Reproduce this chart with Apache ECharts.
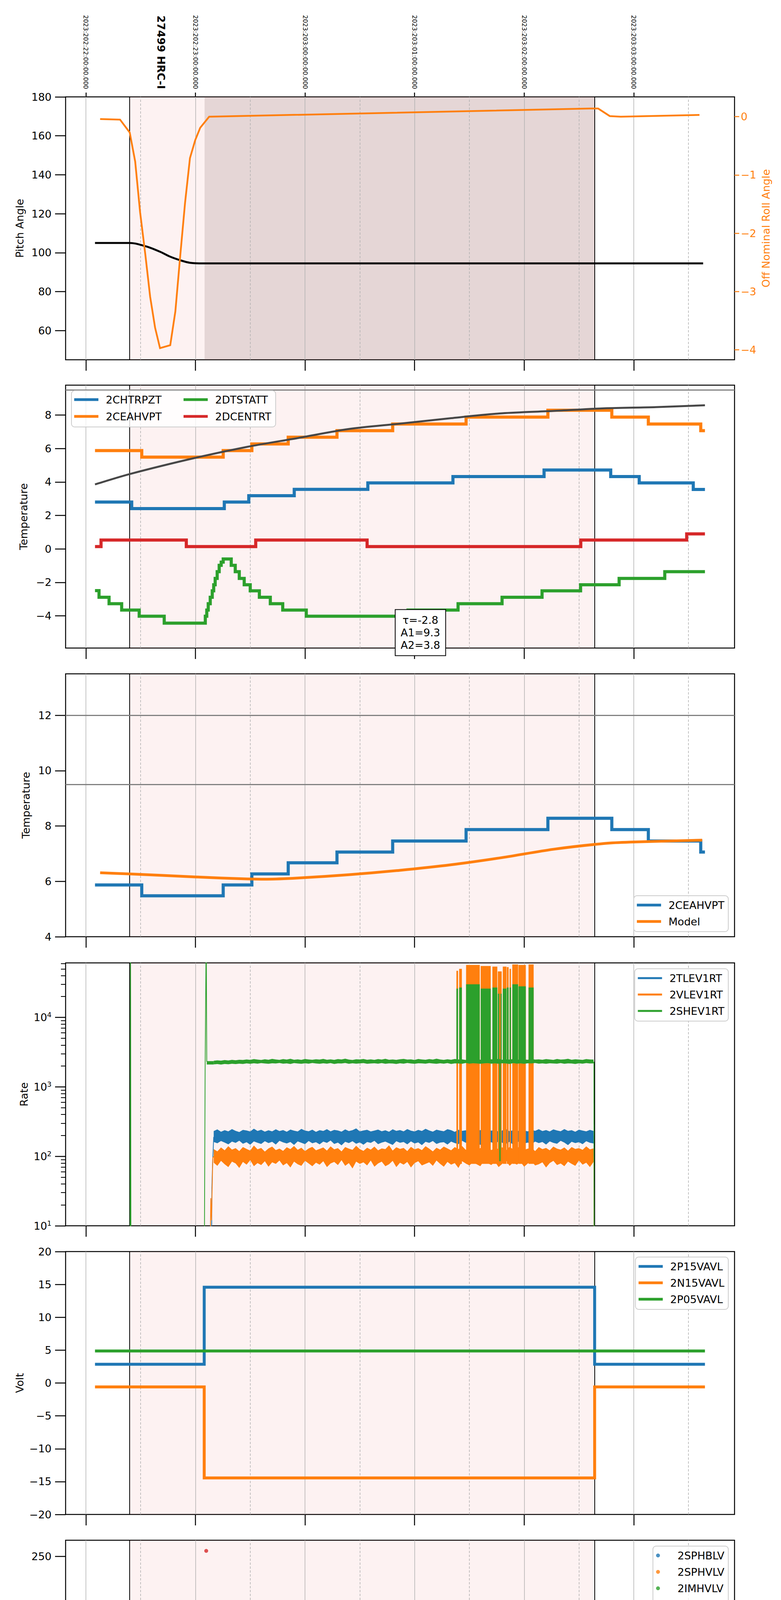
<!DOCTYPE html>
<html><head><meta charset="utf-8">
<script src="https://cdn.jsdelivr.net/npm/echarts@6/dist/echarts.min.js"></script>
<style>html,body{margin:0;padding:0;background:#fff}#c{width:2000px;height:6200px}</style>
</head><body><div id="c"></div>
<script>
// ---------------- DATA (time = minutes after 18:00 local, 2023-07-22) ----------------
const hourTicks = [0, 60, 120, 180, 240, 300];
const halfTicks = [30, 90, 150, 210, 270, 330];
const hourLabels = ['18h', '19h', '20h', '21h', '22h', '23h'];
const topDateLabels = ['2023:202:22:00:00.000', '2023:202:23:00:00.000', '2023:203:00:00:00.000',
  '2023:203:01:00:00.000', '2023:203:02:00:00.000', '2023:203:03:00:00.000'];
const obsLabel = '27499 HRC-I';
const obsTime = 41.2;
const xTitle = '2023-07-22 (203)';
const shadeStart = 24.0, shadeEnd = 278.6, hrcOnTime = 65.0;

// Panel 1
const pitchT = [5, 24, 27, 30, 35, 41, 46, 52, 57, 63, 338];
const pitchV = [105, 105, 104.7, 104.0, 102.6, 100.3, 98.0, 96.0, 94.8, 94.5, 94.5];
const rollT = [7.8, 18.7, 24.0, 27.0, 29.7, 32.5, 35.2, 37.9, 40.6, 46.2, 49.0, 51.6, 54.3, 57.0, 59.9, 62.6, 67.5, 276.4, 280.5, 286.9, 292.9, 336.0];
const rollV = [-0.04, -0.05, -0.27, -0.77, -1.64, -2.35, -3.09, -3.62, -3.97, -3.92, -3.34, -2.41, -1.48, -0.71, -0.40, -0.19, 0.00, 0.14, 0.14, 0.01, 0.00, 0.03];

// Panel 2
const htrT = [5, 25.1, 75.8, 89.2, 114.1, 154.4, 201.0, 250.9, 287.4, 303.0, 332.6, 339];
const htrV = [2.80, 2.41, 2.80, 3.18, 3.56, 3.94, 4.32, 4.71, 4.32, 3.94, 3.55, 3.55];
const ceaT = [5, 30.6, 75.2, 90.9, 110.8, 137.5, 168.0, 208.2, 253.0, 288.0, 308.0, 336.7, 339];
const ceaV = [5.87, 5.48, 5.87, 6.27, 6.67, 7.06, 7.46, 7.87, 8.28, 7.87, 7.46, 7.06, 7.06];
const dtsT = [5, 7.2, 12.7, 19.6, 29.2, 42.9, 65.4, 66.2, 67.0, 68.1, 69.2, 70.0, 70.8, 71.9, 73.0, 74.1, 75.2, 79.6, 81.8, 84.0, 86.7, 90.0, 95.0, 101.0, 107.8, 120.7, 176.4, 203.8, 227.9, 249.8, 270.9, 292.0, 317.0, 339];
const dtsV = [-2.49, -2.89, -3.27, -3.65, -4.02, -4.43, -4.02, -3.65, -3.27, -2.89, -2.50, -2.14, -1.76, -1.36, -0.98, -0.79, -0.60, -0.98, -1.36, -1.76, -2.14, -2.50, -2.89, -3.27, -3.65, -4.02, -3.65, -3.27, -2.89, -2.50, -2.14, -1.76, -1.36, -1.36];
const dceT = [5, 8.3, 55, 93, 154, 271, 329, 339];
const dceV = [0.14, 0.53, 0.14, 0.53, 0.14, 0.53, 0.90, 0.90];
const model2T = [5, 24, 60, 88, 116, 144, 172, 200, 228, 256, 284, 312, 339];
const model2V = [3.85, 4.47, 5.44, 6.09, 6.62, 7.16, 7.48, 7.81, 8.10, 8.24, 8.40, 8.47, 8.58];
const fitLines = ['τ=-2.8', 'A1=9.3', 'A2=3.8'];
const fitAt = [183.2, -5.0];
const limit2 = [9.5];

// Panel 3
const model3T = [7.8, 24, 60, 88, 99, 116, 144, 172, 200, 228, 256, 284, 298, 337.5];
const model3V = [6.31, 6.27, 6.16, 6.09, 6.08, 6.12, 6.24, 6.40, 6.60, 6.86, 7.16, 7.37, 7.42, 7.49];
const limit3 = [12, 9.5];

// Panel 4 (rates, log scale): noise envelopes sampled every 2 minutes
const bandT = [70,72,74,76,78,80,82,84,86,88,90,92,94,96,98,100,102,104,106,108,110,112,114,116,118,120,122,124,126,128,130,132,134,136,138,140,142,144,146,148,150,152,154,156,158,160,162,164,166,168,170,172,174,176,178,180,182,184,186,188,190,192,194,196,198,200,202,204,206,208,210,212,214,216,218,220,222,224,226,228,230,232,234,236,238,240,242,244,246,248,250,252,254,256,258,260,262,264,266,268,270,272,274,276,278];
const tleHi = [231,244,226,238,229,247,233,224,240,236,228,250,232,241,227,
  237,229,245,231,239,226,243,234,228,248,235,230,242,225,238,
  232,246,229,240,236,227,244,231,238,252,229,236,241,228,235,
  243,230,237,226,245,233,239,229,247,234,228,240,232,249,236,
  227,242,235,230,246,238,225,241,233,237,229,244,231,239,228,
  245,234,240,227,236,248,230,238,226,243,235,229,241,233,246,
  231,239,228,244,236,230,247,233,238,226,242,235,229,240,232];
const tleLo = [161,154,166,158,149,163,156,168,152,160,147,164,157,151,165,
  155,162,148,167,159,153,161,146,164,157,150,166,154,160,149,
  163,156,169,151,158,144,162,155,165,152,159,147,161,156,167,
  150,158,163,154,146,165,157,161,149,164,153,159,145,162,156,
  166,151,158,160,148,163,155,150,167,157,161,152,158,146,164,
  154,160,149,165,157,151,162,147,159,166,153,158,150,163,155,
  161,148,164,156,152,167,158,145,162,155,160,150,165,157,153];
const vleHi = [127,118,134,122,140,125,131,119,136,128,121,143,126,132,117,
  130,138,123,129,120,135,127,141,124,133,119,130,137,122,128,
  134,121,139,126,131,118,136,129,124,142,127,120,133,125,138,
  122,130,127,144,121,135,128,132,119,137,126,131,123,140,129,
  118,133,125,138,130,122,136,127,141,124,129,134,120,132,126,
  139,123,131,128,135,121,137,126,130,143,124,129,133,119,136,
  127,132,122,138,129,125,134,121,136,128,131,124,139,126,130];
const vleLo = [81,73,86,77,70,84,79,68,83,76,88,72,80,75,85,
  71,82,78,87,74,80,69,84,77,73,86,79,72,81,76,
  85,70,79,83,75,88,73,80,67,84,78,82,74,87,71,
  79,84,72,77,86,70,81,76,83,69,80,85,74,78,82,
  73,87,78,71,83,76,80,68,85,79,74,82,77,72,86,
  80,75,84,70,78,88,73,81,76,83,71,79,85,74,77,
  82,69,80,86,75,79,72,84,78,73,87,76,81,70,83];
const sheHi = [2380,2410,2390,2430,2400,2450,2420,2460,2440,2480,2450,2510,2470,2440,2500,
  2460,2530,2480,2450,2510,2470,2540,2460,2490,2450,2520,2480,2460,2500,2470,
  2530,2460,2490,2450,2510,2480,2550,2470,2440,2500,2480,2520,2460,2490,2450,
  2510,2470,2540,2460,2480,2450,2500,2530,2470,2490,2440,2520,2480,2460,2510,
  2470,2550,2480,2450,2500,2460,2520,2480,2490,2440,2510,2470,2530,2460,2490,
  2450,2500,2480,2540,2460,2490,2470,2520,2450,2500,2480,2460,2530,2470,2490,
  2460,2510,2480,2450,2520,2470,2490,2540,2460,2500,2470,2450,2510,2480,2470];
const sheLo = [2110,2130,2100,2140,2120,2150,2130,2160,2140,2180,2150,2190,2160,2200,2170,
  2150,2190,2170,2210,2160,2180,2140,2200,2170,2150,2190,2160,2210,2170,2150,
  2190,2160,2200,2140,2180,2170,2210,2150,2190,2160,2180,2200,2150,2170,2190,
  2160,2200,2150,2180,2170,2140,2190,2160,2210,2170,2150,2190,2180,2160,2200,
  2170,2150,2190,2160,2200,2140,2180,2170,2150,2210,2160,2190,2170,2150,2180,
  2200,2160,2180,2150,2190,2170,2140,2200,2160,2180,2150,2190,2170,2210,2160,
  2180,2150,2190,2170,2160,2200,2150,2180,2170,2140,2190,2160,2200,2170,2180];
// bursts: [start, end, low, high]
const vleBursts = [[202.9,203.8,78,47000],[204.4,205.9,78,50000],[208.2,215.7,78,57000],[216.2,221.7,78,55000],[222.6,225.3,78,54000],[225.6,227.7,78,46000],[228.3,230.3,78,54000],[230.5,231.5,78,53000],[232.0,232.8,78,50000],[233.5,236.7,78,58000],[236.9,240.9,78,57000],[242.4,245.2,78,58000]];
const sheBursts = [[66.2,70,2100,2350],[202.9,203.8,2200,26000],[204.4,205.9,2200,27000],[208.2,215.7,2200,30000],[216.2,221.7,2200,26000],[222.6,225.3,2200,27000],[225.6,226.4,2200,22000],[227.1,227.7,2200,22000],[228.3,230.3,2200,26000],[230.5,231.5,2200,27000],[232.0,232.8,2200,27000],[233.5,236.7,2200,30000],[236.9,240.9,2200,28000],[242.4,245.2,2200,27000],[226.4,227.1,85,2300]];
const sheSpikeT = [5, 24.2, 24.45, 24.7];
const sheSpikeV = [1, 1, 200000, 1];
const sheOnT = [64.8, 65.3, 65.9, 66.2];
const sheOnV = [1, 1700, 200000, 2300];
const tleOnT = [68.7, 69.0, 69.4, 70.0];
const tleOnV = [1, 35, 80, 190];
const vleOnT = [67.8, 68.4, 68.8, 69.5, 70.0];
const vleOnV = [1, 25, 12, 95, 100];
const rateOffT = [278.2, 278.35];
const tleOffV = [200, 1];
const vleOffV = [100, 1];
const sheOffV = [2300, 1];

// Panel 5
const voltT = [5, 64.8, 278.6, 339];
const p15V = [2.85, 14.57, 2.85, 2.85];
const n15V = [-0.6, -14.45, -0.6, -0.6];
const p05T = [5, 339];
const p05V = [4.87, 4.87];

// Panel 6 (HV monitor, points)
const hvRedT = [65.9, 66.5, 66.6, 66.7, 66.9, 67.1, 67.5, 67.7, 68.0, 68.2, 68.4, 68.7, 68.9, 69.3, 69.7, 207.0, 212.1, 212.7, 218.9];
const hvRedV = [255.5, 126.6, 124, 118.9, 106, 104, 101.3, 99, 96.6, 95, 92.8, 91, 90, 88, 87, 79, 79, 79, 79];
const hvRedSteadyT = [70.3, 278.3];
const hvRedSteadyV = [86.3, 86.3];
const hvGreenT = [66.3, 66.5, 66.8, 67.0, 67.3, 67.6, 67.9, 68.2, 68.6, 207.0, 212.1, 212.7, 218.9];
const hvGreenV = [100.3, 97, 95.7, 92, 90, 87, 86.3, 84, 82.6, 127, 127, 127, 127];
const hvGreenSteadyT = [68.8, 278.3];
const hvGreenSteadyV = [78.8, 78.8];

// Panel 7 (detector temps)
const spinT = [66.4, 67.0, 67.5, 68.6, 69.7, 70.8, 71.9, 73.0, 74.1, 75.8, 79.6, 81.2, 83.2, 85.9, 88.6, 91.4, 96.0, 102.3, 110.6, 124.3, 180.5, 209.3, 278.3];
const spinV = [3.66, 4.18, 4.62, 5.10, 5.55, 6.03, 6.53, 7.01, 7.49, 8.00, 7.49, 7.01, 6.53, 6.03, 5.55, 5.10, 4.62, 4.18, 3.70, 3.25, 2.81, 3.25, 3.25];
const spinBursts = [[204.6,207.8,-1,2.81],[209.3,226.2,-1,3.25],[227.6,246.8,-1,3.25]];
const sphT = [65.3, 65.9, 92.5, 92.8, 120.8, 148.0, 176.9, 204.6, 226.9, 227.1, 242.2, 278.3];
const sphV = [14.30, 15.02, 14.70, 15.02, 15.25, 15.54, 15.82, 13.0, -3, 13.0, 16.39, 16.39];
const sphBursts = [[204.6,207.8,10.5,15.8],[209.3,226.4,10.5,16.0],[227.6,242.2,10.5,16.0],[244.2,246.8,10.8,16.4]];
const iminT = [66.4, 115.2, 212.7, 246.8, 278.3];
const iminV = [0.65, 1.10, 1.40, 1.52, 1.52];
const iminBursts = [[204.6,207.8,1.1,2.85],[212.7,226.2,1.4,3.3],[227.6,242.2,1.4,3.3],[244.2,246.8,1.4,3.3]];
const imhT = [65.2, 65.3, 77.7, 84.0, 91.3, 98.8, 107.8, 117.4, 129.8, 144.0, 160.8, 181.0, 204.6, 205.5, 242.2, 245.0, 245.6, 278.3, 278.4];
const imhV = [-5, 14.43, 14.73, 15.00, 15.30, 15.54, 15.82, 16.12, 16.39, 16.68, 16.97, 17.25, 15.80, 17.00, 17.81, 16.00, 17.81, 25, -5];
const imhBursts = [[205.2,242.2,16.04,17.54]];

// Panel 8 (FEA temps)
const fhtT = [5, 56, 73.5, 84.9, 93.6, 102.6, 111.4, 120.8, 130.6, 141, 151, 162, 172.3, 183, 194.8, 208, 224, 241.5, 242.5, 257.8, 271.5, 304.7, 319.7, 336, 339];
const fhtV = [-8.81, -9.2, -8.81, -8.39, -7.98, -7.58, -7.18, -6.77, -6.37, -5.98, -5.6, -5.19, -4.81, -4.42, -4.03, -3.64, -3.26, -2.88, -2.5, -2.11, -1.74, -2.11, -2.5, -2.88, -2.88];
const fraT = [5, 49.0, 51.7, 81, 90.9, 101, 110.8, 120.8, 131.7, 142.6, 153.9, 165.7, 177.7, 190.3, 203.8, 217, 230.7, 244.8, 259.1, 274.5, 292, 305.7, 321, 337.2, 339];
const fraV = [-12, -10.9, -12, -10.9, -10.47, -10.06, -9.64, -9.22, -8.81, -8.39, -7.98, -7.58, -7.18, -6.77, -6.37, -5.98, -5.6, -5.19, -4.81, -4.42, -4.81, -5.19, -5.6, -5.98, -5.98];
const fepT = [67.5, 69.5, 71.4, 74.7, 79.0, 83.4, 90.0, 97.2, 104.8, 113.0, 121.8, 131.7, 141.8, 152.2, 163.8, 175.5, 187.9, 201, 242.7, 258.6, 275, 276];
const fepV = [-7.45, -7.01, -6.6, -6.2, -5.79, -5.4, -5.01, -4.62, -4.21, -3.79, -3.4, -3.01, -2.62, -2.21, -1.82, -1.4, -1.01, -0.58, 0.68, 1.13, 1.5, 1.5];
const fepBursts = [[202.5,206.5,-4.67,-0.55],[208.2,214.2,-4.67,-0.5],[216.6,224.0,-4.67,-0.5],[227.9,241.4,-4.67,-0.2],[242.7,245.9,-4.67,0.7]];
const fe0T = [65.2, 65.3, 70.8, 76.9, 77.3, 79.0, 85.9, 86.3, 86.7, 91.4, 92.4, 92.8, 98.2, 100.5, 100.9, 104.3, 108.0, 108.4, 111.4, 118.8, 123.4, 125.5, 125.9, 133.1, 134.1, 134.5, 141.3, 148.1, 157.4, 166.2, 175.0, 184.6, 194.2, 203.8, 226.3, 226.6, 245.9, 255.9, 265.4, 278.3, 278.5];
const fe0V = [-13, -7.06, -6.72, -7.15, -6.72, -6.35, -5.97, -6.37, -5.97, -5.60, -6.39, -5.60, -5.22, -5.64, -5.22, -4.86, -5.30, -4.86, -4.52, -4.18, -3.82, -4.23, -3.82, -3.47, -4.23, -3.47, -3.12, -2.77, -2.44, -2.10, -1.76, -1.43, -1.11, 0.5, -13, 0.5, 0.56, 0.84, 1.15, 3, -13];
const fe0Bursts = [[200.3,201.5,-1.11,-0.13],[203.8,206.8,-1.15,2],[206.7,208.4,-1.15,2],[206.8,213.5,-0.82,2],[213.5,223,-0.52,2],[223,238,-0.21,2],[230.2,231.6,-0.52,2],[235.3,237,-0.52,2],[238,245.9,0.1,2],[243,244.4,-0.82,2]];

// ---------------- CHART ----------------
const FONT = 'DejaVu Sans';
const C = {blue: '#1f77b4', orange: '#ff7f0e', green: '#2ca02c', red: '#d62728'};
const X_MIN = -11.1, X_MAX = 355.2;
const tops = [248, 986, 1725, 2465, 3204, 3943, 4682, 5421];
const PH = 673;
const minus = v => (v < 0 ? '\u2212' : '') + Math.abs(v);

const panels = [
  {name: 'Pitch Angle', min: 45, max: 180, ticks: [60, 80, 100, 120, 140, 160, 180], gap: 104},
  {name: 'Temperature', min: -5.92, max: 9.78, ticks: [-4, -2, 0, 2, 4, 6, 8], gap: 94},
  {name: 'Temperature', min: 4, max: 13.5, ticks: [4, 6, 8, 10, 12], gap: 88},
  {name: 'Rate', type: 'log', min: 10, max: 61000, ticks: [10, 100, 1000, 10000], gap: 92},
  {name: 'Volt', min: -20, max: 20, ticks: [-20, -15, -10, -5, 0, 5, 10, 15, 20], gap: 104},
  {name: 'HV Monitor', min: 0, max: 266.3, ticks: [0, 50, 100, 150, 200, 250], gap: 100},
  {name: 'Detector Temp', min: -0.42, max: 19.02, ticks: [0, 2.5, 5, 7.5, 10, 12.5, 15, 17.5], gap: 113, fmt: v => v.toFixed(1)},
  {name: 'FEA Temp', min: -11.13, max: 1.36, ticks: [-10, -8, -6, -4, -2, 0], gap: 112}
];
const limits = {1: limit2, 2: limit3};
const NOLINE = {show: false, onZero: false};

const grids = tops.map(t => ({left: 168, right: 119, top: t, height: PH, show: true, borderColor: '#000', borderWidth: 2.5, backgroundColor: 'transparent'}));

const xAxes = tops.map((t, gi) => ({
  type: 'value', gridIndex: gi, min: X_MIN, max: X_MAX, position: 'bottom',
  axisLine: NOLINE, splitLine: {show: false},
  axisTick: {show: true, customValues: hourTicks, length: 28, lineStyle: {color: '#000', width: 2.5}},
  axisLabel: gi === 7 ? {
    customValues: hourTicks.concat(halfTicks).sort((a, b) => a - b), margin: 6,
    formatter: v => hourTicks.indexOf(v) >= 0 ? '{h|' + hourLabels[hourTicks.indexOf(v)] + '}' : '{m|30}',
    rich: {h: {fontSize: 28, fontFamily: FONT, color: '#000', padding: [27, 0, 0, 0]}, m: {fontSize: 17, fontFamily: FONT, color: '#000'}}
  } : {show: false},
  name: gi === 7 ? xTitle : '', nameLocation: 'middle', nameGap: 69,
  nameTextStyle: {fontSize: 33, fontFamily: FONT, color: '#000'}
}));
xAxes.push({
  type: 'value', gridIndex: 0, min: X_MIN, max: X_MAX, position: 'top',
  axisLine: NOLINE, splitLine: {show: false},
  axisTick: {show: true, customValues: hourTicks, length: 11, lineStyle: {color: '#000', width: 2.5}},
  axisLabel: {
    customValues: [hourTicks[0], obsTime].concat(hourTicks.slice(1)), rotate: 90, margin: 20,
    formatter: v => Math.abs(v - obsTime) < 0.01 ? '{b|' + obsLabel + '}' : '{d|' + topDateLabels[hourTicks.indexOf(v)] + '}',
    rich: {b: {fontSize: 27, fontWeight: 'bold', fontFamily: FONT, color: '#000'}, d: {fontSize: 16, fontFamily: FONT, color: '#000'}}
  }
});

const yAxes = panels.map((p, gi) => ({
  type: p.type || 'value', gridIndex: gi, position: 'left', min: p.min, max: p.max,
  axisLine: NOLINE, splitLine: {show: false},
  axisTick: {show: true, customValues: p.ticks, length: 27, lineStyle: {color: '#000', width: 2.5}},
  axisLabel: {
    customValues: p.ticks, margin: 36, fontSize: 27, fontFamily: FONT, color: '#000',
    formatter: p.type === 'log' ? (v => '10{s|' + Math.round(Math.log10(v)) + '}') : (p.fmt || minus),
    rich: {s: {fontSize: 18, fontFamily: FONT, color: '#000', padding: [0, 0, 14, 0]}}
  },
  name: p.name, nameLocation: 'middle', nameRotate: 90, nameGap: p.gap,
  nameTextStyle: {fontSize: 27, fontFamily: FONT, color: '#000'}
}));
// index 8: roll angle (right, panel 1)
yAxes.push({
  type: 'value', gridIndex: 0, position: 'right', min: -4.17, max: 0.34,
  axisLine: NOLINE, splitLine: {show: false},
  axisTick: {show: true, customValues: [-4, -3, -2, -1, 0], length: 12, lineStyle: {color: C.orange, width: 2.5}},
  axisLabel: {customValues: [-4, -3, -2, -1, 0], margin: 16, fontSize: 27, fontFamily: FONT, color: C.orange, formatter: minus},
  name: 'Off Nominal Roll Angle', nameLocation: 'middle', nameRotate: 90, nameGap: 65,
  nameTextStyle: {fontSize: 27, fontFamily: FONT, color: C.orange}
});
// index 9: minor log ticks for panel 4
const minorLog = [];
[10, 100, 1000, 10000].forEach(d => { for (let k = 2; k <= 9; k++) { if (d * k < 61000) minorLog.push(d * k); } });
yAxes.push({
  type: 'log', gridIndex: 3, position: 'left', min: 10, max: 61000,
  axisLine: NOLINE, splitLine: {show: false}, axisLabel: {show: false},
  axisTick: {show: true, customValues: minorLog, length: 12, lineStyle: {color: '#000', width: 2}}
});

const S = [];
function decor(gi) {
  const areas = [[{xAxis: shadeStart, itemStyle: {color: 'rgba(240,128,128,0.10)'}}, {xAxis: shadeEnd}]];
  if (gi === 0) areas.push([{xAxis: hrcOnTime, itemStyle: {color: 'rgba(120,90,90,0.18)'}}, {xAxis: shadeEnd}]);
  const yRef = panels[gi].type === 'log' ? 100 : panels[gi].min;
  S.push({type: 'line', xAxisIndex: gi, yAxisIndex: gi, data: [[X_MIN - 50, yRef]], symbol: 'none', silent: true, z: 0,
    lineStyle: {width: 0}, markArea: {silent: true, z: 0, data: areas}});
  const d = [];
  hourTicks.forEach(h => d.push({xAxis: h, lineStyle: {color: '#b0b0b0', width: 1.5, type: 'solid'}}));
  halfTicks.forEach(h => d.push({xAxis: h, lineStyle: {color: '#b0b0b0', width: 1.5, type: [6, 4]}}));
  d.push({xAxis: shadeStart, lineStyle: {color: '#000', width: 2, type: 'solid'}});
  d.push({xAxis: shadeEnd, lineStyle: {color: '#000', width: 2, type: 'solid'}});
  (limits[gi] || []).forEach(y => d.push({yAxis: y, lineStyle: {color: '#808080', width: 3, type: 'solid'}}));
  S.push({type: 'line', xAxisIndex: gi, yAxisIndex: gi, data: [[X_MIN - 50, yRef]], symbol: 'none', silent: true, z: 1,
    lineStyle: {width: 0}, markLine: {silent: true, z: 1, symbol: ['none', 'none'], label: {show: false}, animation: false, data: d}});
}
for (let gi = 0; gi < 8; gi++) decor(gi);

function ser(name, gi, yi, t, v, color, width, opts) {
  S.push(Object.assign({
    type: 'line', name, xAxisIndex: gi, yAxisIndex: yi, data: t.map((x, i) => [x, v[i]]),
    showSymbol: false, symbol: 'none', clip: true, z: 2, silent: true,
    lineStyle: {color, width, cap: 'butt', join: 'miter'}, itemStyle: {color}
  }, opts || {}));
}
function rects(gi, yi, blocks, color) {
  S.push({type: 'custom', xAxisIndex: gi, yAxisIndex: yi, data: blocks, z: 2, silent: true,
    renderItem: (params, api) => {
      const a = api.coord([api.value(0), api.value(3)]);
      const b = api.coord([api.value(1), api.value(2)]);
      const cs = params.coordSys;
      const shape = echarts.graphic.clipRectByRect({x: a[0], y: a[1], width: b[0] - a[0], height: b[1] - a[1]},
        {x: cs.x, y: cs.y, width: cs.width, height: cs.height});
      return shape ? {type: 'rect', shape, style: {fill: color}} : null;
    }});
}
function band(gi, yi, t, lo, hi, color) {
  S.push({type: 'custom', xAxisIndex: gi, yAxisIndex: yi, data: [[t[0], lo[0]]], z: 2, silent: true,
    renderItem: (params, api) => {
      const pts = [];
      for (let i = 0; i < t.length; i++) pts.push(api.coord([t[i], hi[i]]));
      for (let i = t.length - 1; i >= 0; i--) pts.push(api.coord([t[i], lo[i]]));
      return {type: 'polygon', shape: {points: pts}, style: {fill: color}};
    }});
}
const STEP = {step: 'end'};

// Panel 1
ser('pitch#1', 0, 0, pitchT, pitchV, '#000', 5, {smooth: 0.3});
ser('roll#1', 0, 8, rollT, rollV, C.orange, 4.5);
// Panel 2
ser('2CHTRPZT#2', 1, 1, htrT, htrV, C.blue, 8, STEP);
ser('2CEAHVPT#2', 1, 1, ceaT, ceaV, C.orange, 8, STEP);
ser('2DTSTATT#2', 1, 1, dtsT, dtsV, C.green, 8, STEP);
ser('2DCENTRT#2', 1, 1, dceT, dceV, C.red, 8, STEP);
ser('model#2', 1, 1, model2T, model2V, '#474747', 5, {smooth: 0.3});
// Panel 3
ser('2CEAHVPT#3', 2, 2, ceaT, ceaV, C.blue, 8, STEP);
ser('Model#3', 2, 2, model3T, model3V, C.orange, 7, {smooth: 0.3});
// Panel 4
band(3, 3, bandT, tleLo, tleHi, C.blue);
ser('2TLEV1RT#4', 3, 3, tleOnT, tleOnV, C.blue, 2);
ser('tleoff#4', 3, 3, rateOffT, tleOffV, C.blue, 2);
band(3, 3, bandT, vleLo, vleHi, C.orange);
ser('2VLEV1RT#4', 3, 3, vleOnT, vleOnV, C.orange, 2);
ser('vleoff#4', 3, 3, rateOffT, vleOffV, C.orange, 2);
rects(3, 3, vleBursts, C.orange);
band(3, 3, bandT, sheLo, sheHi, C.green);
ser('2SHEV1RT#4', 3, 3, sheOnT, sheOnV, C.green, 2);
ser('shespike#4', 3, 3, sheSpikeT, sheSpikeV, C.green, 2);
ser('sheoff#4', 3, 3, rateOffT, sheOffV, C.green, 2);
rects(3, 3, sheBursts, C.green);
// Panel 5
ser('2P15VAVL#5', 4, 4, voltT, p15V, C.blue, 7.5, STEP);
ser('2N15VAVL#5', 4, 4, voltT, n15V, C.orange, 7.5, STEP);
ser('2P05VAVL#5', 4, 4, p05T, p05V, C.green, 7.5, STEP);
// Panel 6
S.push({type: 'scatter', name: '2SPHBLV#6', xAxisIndex: 5, yAxisIndex: 5, data: [], symbolSize: 10, itemStyle: {color: C.blue}, z: 2});
S.push({type: 'scatter', name: '2SPHVLV#6', xAxisIndex: 5, yAxisIndex: 5, data: [], symbolSize: 10, itemStyle: {color: C.orange}, z: 2});
ser('imhvlvSteady#6', 5, 5, hvGreenSteadyT, hvGreenSteadyV, C.green, 11, {lineStyle: {color: C.green, width: 11, cap: 'round'}});
S.push({type: 'scatter', name: '2IMHVLV#6', xAxisIndex: 5, yAxisIndex: 5, data: hvGreenT.map((x, i) => [x, hvGreenV[i]]), symbolSize: 10, itemStyle: {color: C.green}, z: 2, silent: true});
ser('imhblvSteady#6', 5, 5, hvRedSteadyT, hvRedSteadyV, C.red, 11, {lineStyle: {color: C.red, width: 11, cap: 'round'}});
S.push({type: 'scatter', name: '2IMHBLV#6', xAxisIndex: 5, yAxisIndex: 5, data: hvRedT.map((x, i) => [x, hvRedV[i]]), symbolSize: 10, itemStyle: {color: C.red}, z: 2, silent: true});
// Panel 7
ser('2SPINATM#7', 6, 6, spinT, spinV, C.blue, 8, STEP);
rects(6, 6, spinBursts, C.blue);
ser('2SPHVATM#7', 6, 6, sphT, sphV, C.orange, 8, STEP);
rects(6, 6, sphBursts, C.orange);
ser('2IMINATM#7', 6, 6, iminT, iminV, C.green, 8, STEP);
rects(6, 6, iminBursts, C.green);
ser('2IMHVATM#7', 6, 6, imhT, imhV, C.red, 8, STEP);
rects(6, 6, imhBursts, C.red);
// Panel 8
ser('2FHTRMZT#8', 7, 7, fhtT, fhtV, C.blue, 8, STEP);
ser('2FRADPYT#8', 7, 7, fraT, fraV, C.orange, 8, STEP);
ser('2FEPRATM#8', 7, 7, fepT, fepV, C.green, 8, STEP);
rects(7, 7, fepBursts, C.green);
ser('2FE00ATM#8', 7, 7, fe0T, fe0V, C.red, 8, STEP);
rects(7, 7, fe0Bursts, C.red);

// Legends
const legText = {fontSize: 27, fontFamily: FONT, color: '#000', lineHeight: 30, padding: [0, 0, 0, 14]};
function legend(extra) {
  return Object.assign({
    orient: 'vertical', right: 135, padding: [9, 10, 11, 8], itemGap: 12, itemWidth: 62, itemHeight: 7,
    icon: 'rect', backgroundColor: 'rgba(255,255,255,0.8)', borderColor: '#cccccc', borderWidth: 2, borderRadius: 8,
    selectedMode: false, textStyle: legText, formatter: n => n.split('#')[0]
  }, extra);
}
const legends = [
  legend({right: 'auto', left: 183, top: 1000, padding: [8, 11, 12, 7], itemGap: 13,
    data: [{name: '2CHTRPZT#2', textStyle: {width: 186}}, {name: '2CEAHVPT#2', textStyle: {width: 186}}, '', '2DTSTATT#2', '2DCENTRT#2']}),
  legend({top: 2293, data: ['2CEAHVPT#3', 'Model#3']}),
  legend({top: 2480, itemHeight: 5, data: ['2TLEV1RT#4', '2VLEV1RT#4', '2SHEV1RT#4']}),
  legend({top: 3218, data: ['2P15VAVL#5', '2N15VAVL#5', '2P05VAVL#5']}),
  legend({top: 3958, icon: 'circle', itemHeight: 10, data: ['2SPHBLV#6', '2SPHVLV#6', '2IMHVLV#6', '2IMHBLV#6']}),
  legend({top: 4695, data: ['2SPINATM#7', '2SPHVATM#7', '2IMINATM#7', '2IMHVATM#7']}),
  legend({top: 5904, data: ['2FHTRMZT#8', '2FRADPYT#8', '2FEPRATM#8', '2FE00ATM#8']})
];

const chart = echarts.init(document.getElementById('c'), null, {renderer: 'svg', width: 2000, height: 6200});
chart.setOption({
  animation: false, backgroundColor: '#fff',
  textStyle: {fontFamily: FONT},
  grid: grids, xAxis: xAxes, yAxis: yAxes, legend: legends, series: S
});
const fp = chart.convertToPixel({xAxisIndex: 1, yAxisIndex: 1}, fitAt);
chart.setOption({graphic: [{type: 'text', x: fp[0], y: fp[1], z: 100,
  style: {text: fitLines.join('\n'), fontSize: 27, fontFamily: FONT, lineHeight: 32, fill: '#000',
    align: 'center', verticalAlign: 'middle', backgroundColor: '#fff', borderColor: '#000', borderWidth: 2, padding: [10, 13]}}]});
</script></body></html>
